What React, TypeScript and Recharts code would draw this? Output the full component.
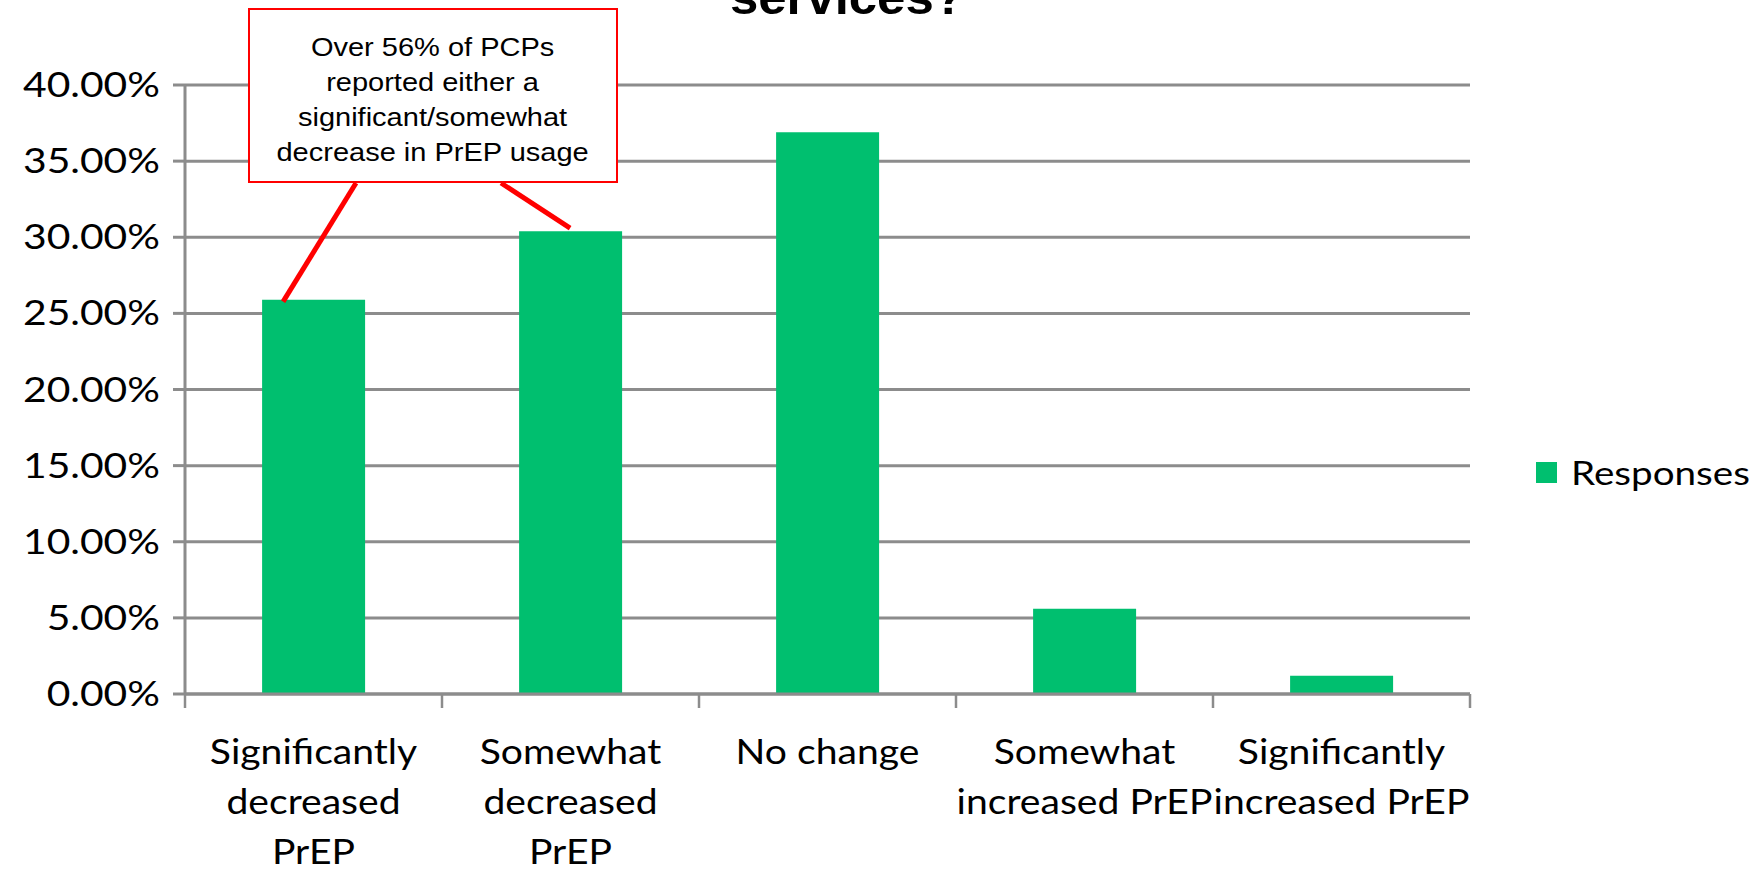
import React from 'react';
import { BarChart, Bar, XAxis, YAxis, CartesianGrid, Legend, LabelList } from 'recharts';

const categories = [
  'Significantly decreased PrEP',
  'Somewhat decreased PrEP',
  'No change',
  'Somewhat increased PrEP',
  'Significantly increased PrEP',
];
const responses = [25.9, 30.4, 36.9, 5.6, 1.2];
const tickLines = [
  ['Significantly', 'decreased', 'PrEP'],
  ['Somewhat', 'decreased', 'PrEP'],
  ['No change'],
  ['Somewhat', 'increased PrEP'],
  ['Significantly', 'increased PrEP'],
];
const yTicks = [0, 5, 10, 15, 20, 25, 30, 35, 40];
const calloutLines = ['Over 56% of PCPs', 'reported either a', 'significant/somewhat', 'decrease in PrEP usage'];
const seriesName = 'Responses';
const titleTail = 'services?';

const data = categories.map((name, i) => ({ name, value: responses[i] }));

// layout
const W = 1757;
const H = 869;
const PLOT_LEFT = 185;
const PLOT_RIGHT = 1470;
const PLOT_TOP = 85;
const X_AXIS_H = 175;
const GREEN = '#00BF6F';
const GRID = '#8c8c8c';
const CALLOUT_BOTTOM = 183;
// where the red lines leave the box and where they hit the bar tops (relative to bar)
const calloutAnchors = [
  { bx: 356, dx: 21, dy: 2 },
  { bx: 501, dx: 51, dy: -3 },
];

const XTick = (props: any) => {
  const { x, y, payload } = props;
  const band = (PLOT_RIGHT - PLOT_LEFT) / categories.length;
  let i = props.index;
  if (i === undefined) i = categories.indexOf(payload.value);
  const lines = tickLines[i] || [payload.value];
  return (
    <g>
      <line x1={x - band / 2} x2={x - band / 2} y1={y} y2={y + 14} stroke={GRID} strokeWidth={2.5} />
      {i === categories.length - 1 && (
        <line x1={x + band / 2} x2={x + band / 2} y1={y} y2={y + 14} stroke={GRID} strokeWidth={2.5} />
      )}
      <g transform={`translate(${x},${y})`}>
        <text transform="scale(1.15,1)" textAnchor="middle" fontFamily="Lato" fontSize={34} fill="#000">
          {lines.map((l: string, k: number) => (
            <tspan key={k} x={0} y={70 + k * 50}>{l}</tspan>
          ))}
        </text>
      </g>
    </g>
  );
};

const YTick = (props: any) => {
  const { x, y, payload } = props;
  return (
    <g transform={`translate(${x},${y})`}>
      <text transform="scale(1.2,1)" textAnchor="end" dy={12} fontFamily="Lato" fontSize={34} fill="#000">
        {Number(payload.value).toFixed(2)}%
      </text>
    </g>
  );
};

const Callout = (props: any) => {
  const vb = props.viewBox || props;
  let i = props.index;
  if (i === undefined) i = responses.indexOf(props.value);
  const a = calloutAnchors[i];
  if (!a) return null;
  return (
    <line x1={a.bx} y1={CALLOUT_BOTTOM} x2={vb.x + a.dx} y2={vb.y + a.dy} stroke="#ff0000" strokeWidth={5} />
  );
};

const LegendContent = () => (
  <div style={{ display: 'flex', alignItems: 'center' }}>
    <div style={{ width: 21, height: 21, background: GREEN }} />
    <div
      style={{
        marginLeft: 14,
        fontFamily: 'Lato',
        fontSize: 33,
        lineHeight: '40px',
        color: '#000',
        whiteSpace: 'nowrap',
        transform: 'scaleX(1.17)',
        transformOrigin: 'left center',
      }}
    >
      {seriesName}
    </div>
  </div>
);

export default function App() {
  return (
    <div style={{ position: 'absolute', left: 0, top: 0, width: W, height: H, background: '#fff', overflow: 'hidden' }}>
      <BarChart
        width={W}
        height={H}
        data={data}
        margin={{ top: PLOT_TOP, right: W - PLOT_RIGHT, bottom: 0, left: 0 }}
        barCategoryGap="30%"
      >
        <CartesianGrid vertical={false} stroke={GRID} strokeWidth={3} />
        <XAxis
          dataKey="name"
          height={X_AXIS_H}
          interval={0}
          tickLine={false}
          tickSize={0}
          tickMargin={0}
          axisLine={{ stroke: GRID, strokeWidth: 3 }}
          tick={<XTick />}
        />
        <YAxis
          width={PLOT_LEFT}
          domain={[0, 40]}
          ticks={yTicks}
          interval={0}
          tickSize={12}
          tickMargin={13}
          tickLine={{ stroke: GRID, strokeWidth: 3 }}
          axisLine={{ stroke: GRID, strokeWidth: 3 }}
          tick={<YTick />}
        />
        <Legend
          layout="horizontal"
          align="center"
          verticalAlign="middle"
          wrapperStyle={{ left: 1536, top: 452, width: 'auto' }}
          content={<LegendContent />}
        />
        <Bar dataKey="value" name={seriesName} fill={GREEN} isAnimationActive={false}>
          <LabelList dataKey="value" content={<Callout />} />
        </Bar>
      </BarChart>

      <svg width={W} height={60} style={{ position: 'absolute', left: 0, top: 0, pointerEvents: 'none' }}>
        <g transform="translate(730,14)">
          <text transform="scale(1.06,1)" fontFamily="'Liberation Sans', Arial" fontWeight="bold" fontSize={48} fill="#000">
            {titleTail}
          </text>
        </g>
      </svg>

      <div
        style={{
          position: 'absolute',
          left: 248,
          top: 8,
          width: 370,
          height: 175,
          boxSizing: 'border-box',
          border: '2px solid #ff0000',
          background: '#fff',
          display: 'flex',
          alignItems: 'center',
          justifyContent: 'center',
          paddingTop: 8,
        }}
      >
        <div
          style={{
            fontFamily: "'Liberation Sans', Arial, sans-serif",
            fontSize: 25,
            lineHeight: '35px',
            textAlign: 'center',
            color: '#000',
            transform: 'scaleX(1.16)',
          }}
        >
          {calloutLines.map((l) => (
            <div key={l}>{l}</div>
          ))}
        </div>
      </div>
    </div>
  );
}
